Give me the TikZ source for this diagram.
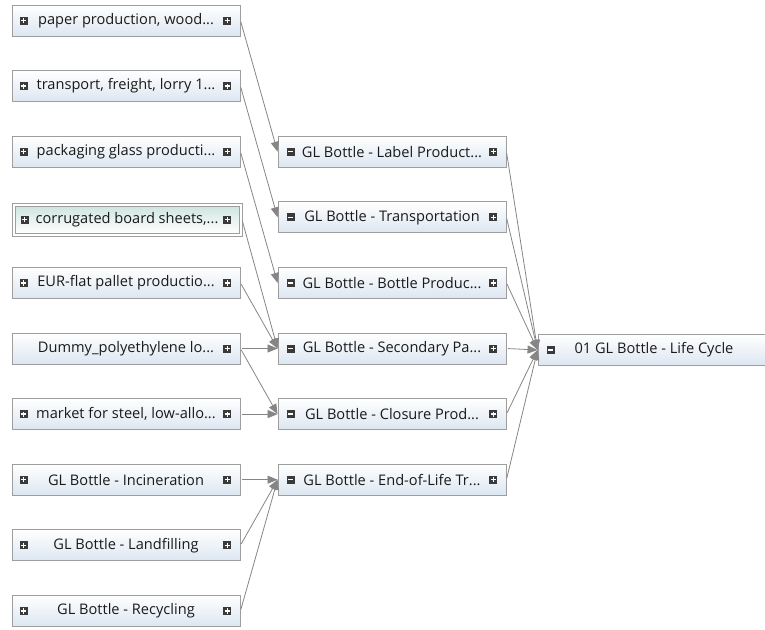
\documentclass[tikz,border=0pt]{standalone}
\usepackage{fontspec}
\setmainfont{Open Sans}
\usetikzlibrary{arrows.meta}

\definecolor{rahmen}{HTML}{9E9E9E}
\definecolor{boxblau}{HTML}{DCE6F1}
\definecolor{auswahl}{HTML}{CFE5E0}
\definecolor{linie}{HTML}{858585}
\definecolor{knopf}{HTML}{3A3A3A}
\definecolor{schrift}{HTML}{1A1A1A}

\begin{document}
\begin{tikzpicture}[x=1pt,y=-1pt,
  prozess/.style={draw=rahmen,line width=0.9pt,top color=white,bottom color=boxblau,
    minimum width=228pt,minimum height=31pt,inner sep=0pt,text=schrift,
    font=\fontsize{14.6}{16}\selectfont},
  markiert/.style={prozess,minimum width=224pt,minimum height=27pt,top color=auswahl,bottom color=white},
  fluss/.style={draw=linie,line width=0.8pt,-{Triangle[length=10pt,width=8pt]},shorten <=1.5pt}]
\useasboundingbox (0,0) rectangle (765,629);
\def\pfeil#1#2{\draw[fluss] (#1.east) -- (#2.west);}
\def\auf#1{\fill[knopf] (#1) +(-4,-4) rectangle +(4,4);
  \draw[white,line width=1.3pt] (#1) +(-2.6,0) -- +(2.6,0) (#1) +(0,-2.6) -- +(0,2.6);}
\def\zu#1{\fill[knopf] (#1) +(-4,-4) rectangle +(4,4);
  \draw[white,line width=1.3pt] (#1) +(-2.6,0) -- +(2.6,0);}

% linke Spalte: Vorprozesse
\node[prozess] at (126,20.5) (paper) {paper production, wood...};
\node[prozess] at (126,86.1) (lorry) {transport, freight, lorry 1...};
\node[prozess] at (126,151.7) (glass) {packaging glass producti...};
\node[markiert] at (127,219.5) (board) {corrugated board sheets,...};
\node[prozess] at (126,282.9) (pallet) {EUR-flat pallet productio...};
\node[prozess] at (126,348.5) (dummy) {Dummy\_polyethylene lo...};
\node[prozess] at (126,414.1) (steel) {market for steel, low-allo...};
\node[prozess] at (126,479.7) (incin) {GL Bottle - Incineration};
\node[prozess] at (126,545.3) (landf) {GL Bottle - Landfilling};
\node[prozess] at (126,610.9) (recyc) {GL Bottle - Recycling};
% Auswahlrahmen
\draw[rahmen,line width=0.9pt] ([shift={(-2.5,-2.5)}]board.north west) rectangle ([shift={(2.5,2.5)}]board.south east);

% mittlere Spalte: Lebenszyklusphasen
\node[prozess] at (392,151.7) (label) {GL Bottle - Label Product...};
\node[prozess] at (392,217.3) (trans) {GL Bottle - Transportation};
\node[prozess] at (392,282.9) (bottle) {GL Bottle - Bottle Produc...};
\node[prozess] at (392,348.5) (second) {GL Bottle - Secondary Pa...};
\node[prozess] at (392,414.1) (closure) {GL Bottle - Closure Prod...};
\node[prozess] at (392,479.7) (eol) {GL Bottle - End-of-Life Tr...};

% Gesamtsystem
\node[prozess,minimum width=232pt] at (654,350) (life) {01 GL Bottle - Life Cycle};

\foreach \n in {paper,lorry,glass,pallet,steel,incin,landf,recyc}
  {\auf{[xshift=12pt]\n.west}}
\auf{[xshift=10pt]board.west}
\foreach \n in {paper,lorry,glass,pallet,dummy,steel,incin,landf,recyc,label,trans,bottle,second,closure,eol}
  {\auf{[xshift=-13pt]\n.east}}
\auf{[xshift=-12pt]board.east}
\foreach \n in {label,trans,bottle,second,closure,eol,life}
  {\zu{[xshift=13pt]\n.west}}

\pfeil{paper}{label}
\pfeil{lorry}{trans}
\pfeil{glass}{bottle}
\draw[fluss] ([xshift=2.5pt]board.east) -- (second.west);
\pfeil{pallet}{second}
\pfeil{dummy}{second}
\pfeil{dummy}{closure}
\pfeil{steel}{closure}
\pfeil{incin}{eol}
\pfeil{landf}{eol}
\pfeil{recyc}{eol}

\pfeil{label}{life}
\pfeil{trans}{life}
\pfeil{bottle}{life}
\pfeil{second}{life}
\pfeil{closure}{life}
\pfeil{eol}{life}
\end{tikzpicture}
\end{document}
